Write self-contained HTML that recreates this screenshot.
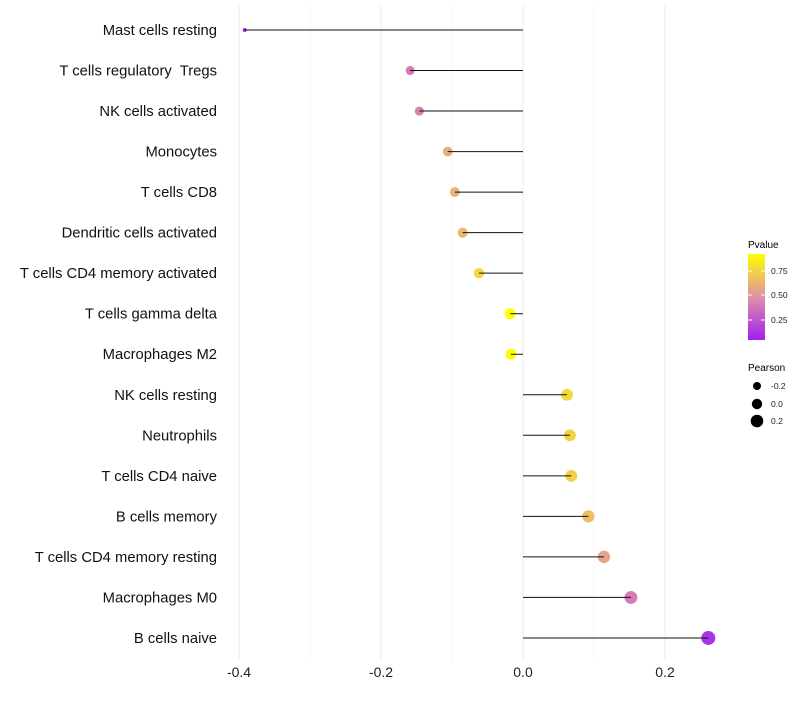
<!DOCTYPE html>
<html><head><meta charset="utf-8"><style>
body{margin:0;background:#fff;font-family:"Liberation Sans",sans-serif;}
text{white-space:pre;}
</style></head><body>
<svg id="chart" width="800" height="700" xmlns="http://www.w3.org/2000/svg">
<defs><linearGradient id="pg" x1="0" y1="1" x2="0" y2="0">
<stop offset="0" stop-color="#A020F0"/><stop offset="0.5" stop-color="#DF90A8"/><stop offset="1" stop-color="#FFFF00"/></linearGradient></defs>
<g id="grid"></g><g id="marks"></g><g id="labels"></g>
<g>
<text x="748" y="248" font-size="10">Pvalue</text>
<rect x="748" y="254" width="17" height="86" fill="url(#pg)"/>
<g stroke="#fff" stroke-width="1"><line x1="748" y1="271" x2="752" y2="271"/><line x1="761" y1="271" x2="765" y2="271"/><line x1="748" y1="295" x2="752" y2="295"/><line x1="761" y1="295" x2="765" y2="295"/><line x1="748" y1="320" x2="752" y2="320"/><line x1="761" y1="320" x2="765" y2="320"/></g>
<g font-size="8.5" fill="#222"><text x="771" y="274">0.75</text><text x="771" y="298">0.50</text><text x="771" y="323">0.25</text></g>
<text x="748" y="371" font-size="10">Pearson</text>
<circle cx="757" cy="386" r="4" fill="#000"/><circle cx="757" cy="404" r="5.2" fill="#000"/><circle cx="757" cy="421" r="6.3" fill="#000"/>
<g font-size="8.5" fill="#222"><text x="771" y="389">-0.2</text><text x="771" y="407">0.0</text><text x="771" y="424">0.2</text></g>
</g>
</svg>
<script>
const cells=["Mast cells resting","T cells regulatory  Tregs","NK cells activated","Monocytes","T cells CD8","Dendritic cells activated","T cells CD4 memory activated","T cells gamma delta","Macrophages M2","NK cells resting","Neutrophils","T cells CD4 naive","B cells memory","T cells CD4 memory resting","Macrophages M0","B cells naive"];
const pearson=[-0.392,-0.159,-0.146,-0.106,-0.096,-0.085,-0.062,-0.018,-0.017,0.062,0.066,0.068,0.092,0.114,0.152,0.261];
const pvalue=[0.05,0.40,0.43,0.60,0.62,0.65,0.76,0.92,0.92,0.77,0.74,0.73,0.66,0.56,0.40,0.12];
const xTicks=[-0.4,-0.2,0.0,0.2];
const xTickLabels=["-0.4","-0.2","0.0","0.2"];
const X=v=>523+v*710;
const Y=i=>30+i*40.53;
const R=v=>Math.sqrt(Math.max(2,31+v*69));
function lerp(a,b,t){return Math.round(a+(b-a)*t);}
function col(p){let t=(p-0.046)/(0.92-0.046);t=Math.max(0,Math.min(1,t));
 const s=[[160,32,240],[223,144,168],[255,255,0]];let a,b,u;
 if(t<0.5){a=s[0];b=s[1];u=t/0.5;}else{a=s[1];b=s[2];u=(t-0.5)/0.5;}
 return `rgb(${lerp(a[0],b[0],u)},${lerp(a[1],b[1],u)},${lerp(a[2],b[2],u)})`;}
const NS="http://www.w3.org/2000/svg";
function mk(tag,at,par){const e=document.createElementNS(NS,tag);for(const k in at)e.setAttribute(k,at[k]);document.getElementById(par).appendChild(e);return e;}
[-0.3,-0.1,0.1,0.3].forEach(v=>{if(X(v)<735){const l=mk('line',{x1:X(v),x2:X(v),y1:5,y2:660,stroke:'#f4f4f4','stroke-width':1},'grid');

}});
xTicks.forEach((v,i)=>{const l=mk('line',{x1:X(v),x2:X(v),y1:5,y2:660,stroke:'#ebebeb','stroke-width':1},'grid');


const t=mk('text',{x:X(v),y:677,'text-anchor':'middle','font-size':14,fill:'#222'},'labels');t.textContent=xTickLabels[i];

});
cells.forEach((c,i)=>{
 const y=Y(i);
 const lab=mk('text',{x:217,y:y+5,'text-anchor':'end','font-size':14.8,fill:'#111'},'labels');lab.textContent=c;
 
 
 const pt=mk('circle',{cx:X(pearson[i]),cy:y,r:R(pearson[i]),fill:col(pvalue[i])},'marks');
 
 
 const seg=mk('line',{x1:X(0),x2:X(pearson[i]),y1:y,y2:y,stroke:'#111','stroke-width':1},'marks');
 
 
});
</script>
</body></html>
